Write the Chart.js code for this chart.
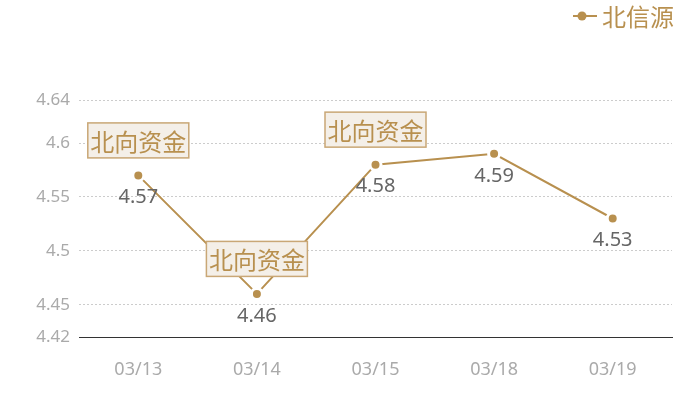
<!DOCTYPE html>
<html>
<head>
<meta charset="utf-8">
<script src="https://cdn.jsdelivr.net/npm/chart.js@4"></script>
<style>
  body { margin: 0; background: #fff; }
  #wrap { width: 700px; height: 400px; }
</style>
</head>
<body>
<div id="wrap"><canvas id="chart" width="700" height="400"></canvas></div>
<script>
const dates = ['03/13', '03/14', '03/15', '03/18', '03/19'];
const prices = [4.57, 4.46, 4.58, 4.59, 4.53];
const yTicks = [4.42, 4.45, 4.5, 4.55, 4.6, 4.64];
const markIndexes = [0, 1, 2];
const markText = '北向资金';
const seriesName = '北信源';

const gold = '#b8904f';
const numFont = '"Noto Sans", "Noto Sans CJK SC", sans-serif';
const cjkFont = '"Noto Sans CJK SC", sans-serif';

// value under each point + the little tag boxes above some points
const labelsPlugin = {
  id: 'labels',
  afterDatasetsDraw(chart) {
    const ctx = chart.ctx;
    const meta = chart.getDatasetMeta(0);
    ctx.save();
    ctx.textAlign = 'center';
    ctx.textBaseline = 'middle';
    ctx.font = '20px ' + numFont;
    ctx.fillStyle = '#666';
    meta.data.forEach((pt, i) => {
      ctx.fillText(String(prices[i]), pt.x, pt.y + 22);
    });
    ctx.font = '24px ' + cjkFont;
    markIndexes.forEach(i => {
      const pt = meta.data[i];
      const w = 101, h = 35;
      const cx = pt.x, cy = pt.y - 35;
      ctx.fillStyle = '#f4efe8';
      ctx.fillRect(cx - w / 2, cy - h / 2, w, h);
      ctx.strokeStyle = '#c9a776';
      ctx.lineWidth = 1.5;
      ctx.strokeRect(cx - w / 2, cy - h / 2, w, h);
      ctx.fillStyle = gold;
      ctx.fillText(markText, cx, cy + 1);
    });
    ctx.restore();
  }
};

// legend top right: line with dot, then name
const legendPlugin = {
  id: 'myLegend',
  afterDraw(chart) {
    const ctx = chart.ctx;
    ctx.save();
    ctx.strokeStyle = gold;
    ctx.lineWidth = 2;
    ctx.beginPath();
    ctx.moveTo(573, 16);
    ctx.lineTo(597, 16);
    ctx.stroke();
    ctx.fillStyle = gold;
    ctx.beginPath();
    ctx.arc(582, 16, 4.5, 0, Math.PI * 2);
    ctx.fill();
    ctx.font = '24px ' + cjkFont;
    ctx.textAlign = 'left';
    ctx.textBaseline = 'middle';
    ctx.fillText(seriesName, 602, 17);
    ctx.restore();
  }
};

new Chart(document.getElementById('chart'), {
  type: 'line',
  plugins: [labelsPlugin, legendPlugin],
  data: {
    labels: dates,
    datasets: [{
      label: seriesName,
      data: prices,
      borderColor: gold,
      borderWidth: 2,
      pointRadius: 5.5,
      pointBorderWidth: 3,
      pointBackgroundColor: gold,
      pointBorderColor: '#fff',
      tension: 0
    }]
  },
  options: {
    responsive: false,
    animation: false,
    layout: { padding: { top: 100, right: 28, left: 0, bottom: 0 } },
    plugins: { legend: { display: false }, tooltip: { enabled: false } },
    scales: {
      x: {
        offset: true,
        grid: { display: false, drawTicks: false },
        border: { display: true, color: '#333', width: 1 },
        ticks: { color: '#aaa', font: { size: 18, family: numFont }, padding: 22 },
        afterFit(scale) { scale.height = 63; }
      },
      y: {
        min: 4.42,
        max: 4.64,
        afterBuildTicks(scale) { scale.ticks = yTicks.map(v => ({ value: v })); },
        grid: { color: '#ccc', lineWidth: 1, drawTicks: false },
        border: { display: false, dash: [2, 2] },
        ticks: {
          color: '#aaa',
          font: { size: 17, family: numFont },
          padding: 9,
          callback: v => String(+v.toFixed(2))
        },
        afterFit(scale) { scale.width = 79; }
      }
    }
  }
});
</script>
</body>
</html>
